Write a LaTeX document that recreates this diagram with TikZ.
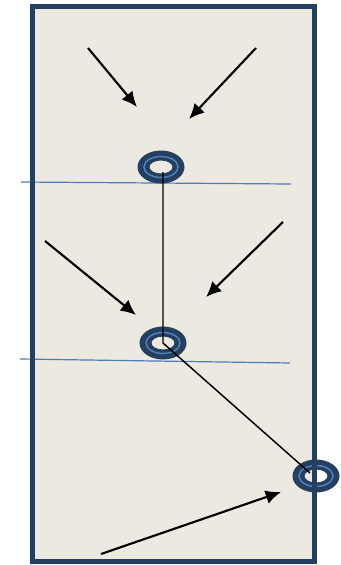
\documentclass[tikz,border=0pt]{standalone}
\usepackage{tikz}
\usetikzlibrary{arrows.meta,calc}
\definecolor{frameblue}{HTML}{243F60}
\definecolor{paper}{HTML}{ECEAE0}
\definecolor{lineblue}{HTML}{4A7EBB}
\definecolor{ringmid}{HTML}{4F81BD}
\tikzset{
  frame/.style={
    draw = frameblue,
    line width = 3.75pt
  },
  level/.style={
    draw = lineblue,
    line width = 0.9pt
  },
  ring/.style={
    fill = frameblue,
    even odd rule
  },
  ringline/.style={
    draw = ringmid,
    line width = 1.1pt
  },
  cord/.style={
    draw = black,
    line width = 1.1pt
  },
  push/.style={
    draw = black,
    line width = 1.6pt,
    -{Latex[length=11.5pt,width=10.5pt]}
  }
}

\begin{document}
\begin{tikzpicture}[x=0.75pt,y=-0.75pt]
        \useasboundingbox (0,0) rectangle (341,565);
        \fill[paper] (32.5,6.5) rectangle (314.5,561.5);

        % levels
        \draw[level] (21,182) -- (291,184);
        \draw[level] (20,359) -- (290,363);

        % rings
        \coordinate (ringA) at (161,167);
        \coordinate (ringB) at (163,343);
        \coordinate (ringC) at (316,476);
        \foreach \r in {ringA,ringB,ringC} {
            \path[ring] (\r) ellipse [x radius=23.5, y radius=16.5]
                        (\r) ellipse [x radius=11.5, y radius=6.5];
            \draw[ringline] (\r) ellipse [x radius=17, y radius=10.5];
        }

        % cord
        \coordinate (topA) at (163,172);
        \coordinate (endC) at (310,473);
        \draw[cord] (topA) -- (ringB) -- (endC);

        % pushes
        \coordinate (p1s) at (88,48);   \coordinate (p1e) at (137,107);
        \coordinate (p2s) at (256,48);  \coordinate (p2e) at (189,119);
        \coordinate (p3s) at (45,241);  \coordinate (p3e) at (136,315);
        \coordinate (p4s) at (283,222); \coordinate (p4e) at (206,297);
        \coordinate (p5s) at (101,554); \coordinate (p5e) at (281,492);
        \foreach \s/\e in {p1s/p1e,p2s/p2e,p3s/p3e,p4s/p4e,p5s/p5e} {
            \draw[push] (\s) -- (\e);
        }

        \draw[frame] (32.5,6.5) rectangle (314.5,561.5);
\end{tikzpicture}
\end{document}
